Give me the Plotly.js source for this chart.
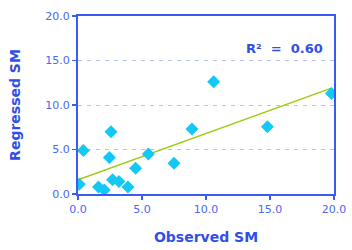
<!DOCTYPE html>
<html>
<head>
<meta charset="utf-8">
<script src="https://cdn.plot.ly/plotly-3.0.1.min.js"></script>
<style>html,body{margin:0;padding:0;background:#fff;}#chart{width:352px;height:250px;}</style>
</head>
<body>
<div id="chart"></div>
<script>
const observedSM = [0.1, 0.42, 2.58, 2.45, 5.5, 7.5, 4.5, 1.6, 2.05, 2.7, 3.2, 3.9, 10.6, 8.9, 14.8, 19.8];
const regressedSM = [1.1, 4.9, 7.0, 4.1, 4.5, 3.45, 2.9, 0.8, 0.45, 1.6, 1.4, 0.8, 12.6, 7.3, 7.55, 11.3];
const trendX = [0, 19.8];
const trendY = [1.6, 11.9];
const tickVals = [0, 5, 10, 15, 20];
const tickText = ["0.0", "5.0", "10.0", "15.0", "20.0"];
const r2Label = "R² = 0.60";

const blue = "#3a5cf5";
const textBlue = "#2f4fe6";
const tickBlue = "#4a68f0";
const font = "DejaVu Sans, Verdana, sans-serif";

const data = [
  {
    x: trendX, y: trendY, type: "scatter", mode: "lines",
    line: {color: "#9acd10", width: 1.5}, hoverinfo: "skip"
  },
  {
    x: observedSM, y: regressedSM, type: "scatter", mode: "markers",
    marker: {symbol: "diamond", size: 10, color: "#12c8f5", line: {width: 0}}
  }
];

const axisCommon = {
  range: [0, 20], tickvals: tickVals, ticktext: tickText,
  showline: true, linecolor: blue, linewidth: 2, mirror: true,
  ticks: "outside", ticklen: 4, tickwidth: 1.5, tickcolor: blue,
  tickfont: {family: font, size: 11, color: tickBlue},
  zeroline: false, fixedrange: true
};

const layout = {
  width: 352, height: 250,
  margin: {l: 78, r: 18, t: 16, b: 56},
  paper_bgcolor: "#fff", plot_bgcolor: "#fff",
  showlegend: false,
  xaxis: Object.assign({}, axisCommon, {
    showgrid: false,
    title: {text: "Observed SM", font: {family: font, size: 14, color: textBlue, weight: "bold"}, standoff: 17}
  }),
  yaxis: Object.assign({}, axisCommon, {
    showgrid: true, gridcolor: "#b4c2f2", griddash: "4px,5px", gridwidth: 1,
    title: {text: "Regressed SM", font: {family: font, size: 14, color: textBlue, weight: "bold"}, standoff: 21}
  }),
  annotations: [{
    xref: "x", yref: "y", x: 19.3, y: 16.4, xanchor: "right", yanchor: "middle",
    text: "<b>" + r2Label.replace(/ /g, "&nbsp;&nbsp;") + "</b>", showarrow: false,
    font: {family: font, size: 13, color: textBlue}
  }]
};

Plotly.newPlot("chart", data, layout, {displayModeBar: false, staticPlot: true});
</script>
</body>
</html>
